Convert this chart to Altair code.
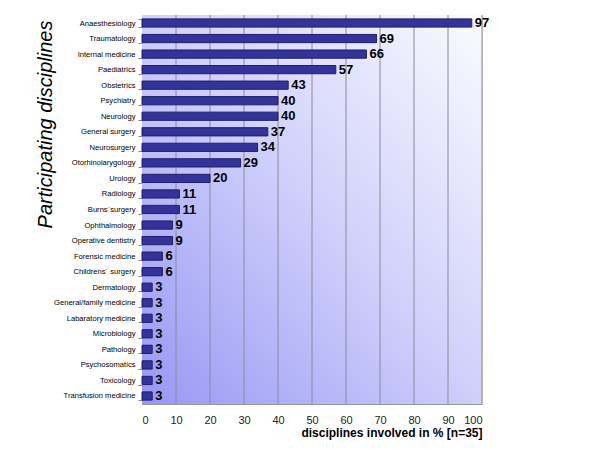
import altair as alt
import pandas as pd

disciplines = [
    "Anaesthesiology", "Traumatology", "Internal medicine", "Paediatrics",
    "Obstetrics", "Psychiatry", "Neurology", "General surgery", "Neurosurgery",
    "Otorhinolarygology", "Urology", "Radiology", "Burns\u00b4surgery",
    "Ophthalmology", "Operative dentistry", "Forensic medicine",
    "Childrens\u00b4 surgery", "Dermatology", "General/family medicine",
    "Labaratory medicine", "Microbiology", "Pathology", "Psychosomatics",
    "Toxicology", "Transfusion medicine",
]
percent = [97, 69, 66, 57, 43, 40, 40, 37, 34, 29, 20, 11, 11, 9, 9, 6, 6,
           3, 3, 3, 3, 3, 3, 3, 3]
x_ticks = [0, 10, 20, 30, 40, 50, 60, 70, 80, 90, 100]

df = pd.DataFrame({"discipline": disciplines, "percent": percent})
grid_df = pd.DataFrame({"tick": x_ticks[1:]})

FONT = "Liberation Sans"

gradient = {
    "gradient": "linear",
    "x1": 0, "y1": 1, "x2": 1, "y2": 0,
    "stops": [
        {"offset": 0, "color": "#9797f5"},
        {"offset": 0.5, "color": "#cfcffb"},
        {"offset": 1, "color": "#fbfbff"},
    ],
}

xscale = alt.Scale(domain=[0, 100], nice=False)
yscale = alt.Scale(paddingInner=0.47, paddingOuter=0.25)

xaxis = alt.Axis(title="disciplines involved in % [n=35]",
                 values=x_ticks, labelOverlap=False,
                 titleFont=FONT, titleFontSize=12, titleFontWeight="bold",
                 titleColor="#000", titleAnchor="end", titleAlign="right",
                 titlePadding=2,
                 labelFont=FONT, labelFontSize=11, labelColor="#222",
                 labelPadding=10, ticks=False, domainColor="#999",
                 grid=False)

bg = alt.Chart(pd.DataFrame({"a": [0]})).mark_rect(fill=gradient, stroke=None).encode(
    x=alt.value(0), x2=alt.value("width"), y=alt.value(0), y2=alt.value("height")
)

grid = alt.Chart(grid_df).mark_rule(color="#8a8a9a", strokeWidth=1).encode(
    x=alt.X("tick:Q", scale=xscale, axis=xaxis),
    y=alt.value(0), y2=alt.value("height"),
)

base = alt.Chart(df).encode(
    y=alt.Y("discipline:N", sort=None, scale=yscale,
            axis=alt.Axis(title="Participating disciplines", titleFont=FONT,
                          titleFontSize=20, titleFontStyle="italic",
                          titleFontWeight="normal", titleColor="#000",
                          titleAngle=-90, titleX=-97, titleY=5,
                          titleAlign="right", titleBaseline="middle",
                          labelFont=FONT, labelFontSize=7.6, labelColor="#000",
                          labelPadding=3, tickSize=4, tickColor="#888",
                          tickBand="extent", domainColor="#888",
                          labelLimit=200)),
)

bars = base.mark_bar(color="#333399", stroke="#1f1f6b", strokeWidth=1).encode(
    x=alt.X("percent:Q", scale=xscale, axis=xaxis),
)

labels = base.mark_text(align="left", baseline="middle", dx=3, font=FONT,
                        fontSize=13, fontWeight="bold", color="#000").encode(
    x=alt.X("percent:Q", scale=xscale, axis=xaxis),
    text=alt.Text("percent:Q"),
)

chart = alt.layer(bg, grid, bars, labels).properties(
    width=340, height=389,
    autosize=alt.AutoSizeParams(type="none"),
    padding={"left": 134, "top": 7, "right": 90, "bottom": 36},
).configure_view(stroke=None).configure(background="white")

chart.save("out.html", embed_options={"renderer": "svg", "actions": False})
